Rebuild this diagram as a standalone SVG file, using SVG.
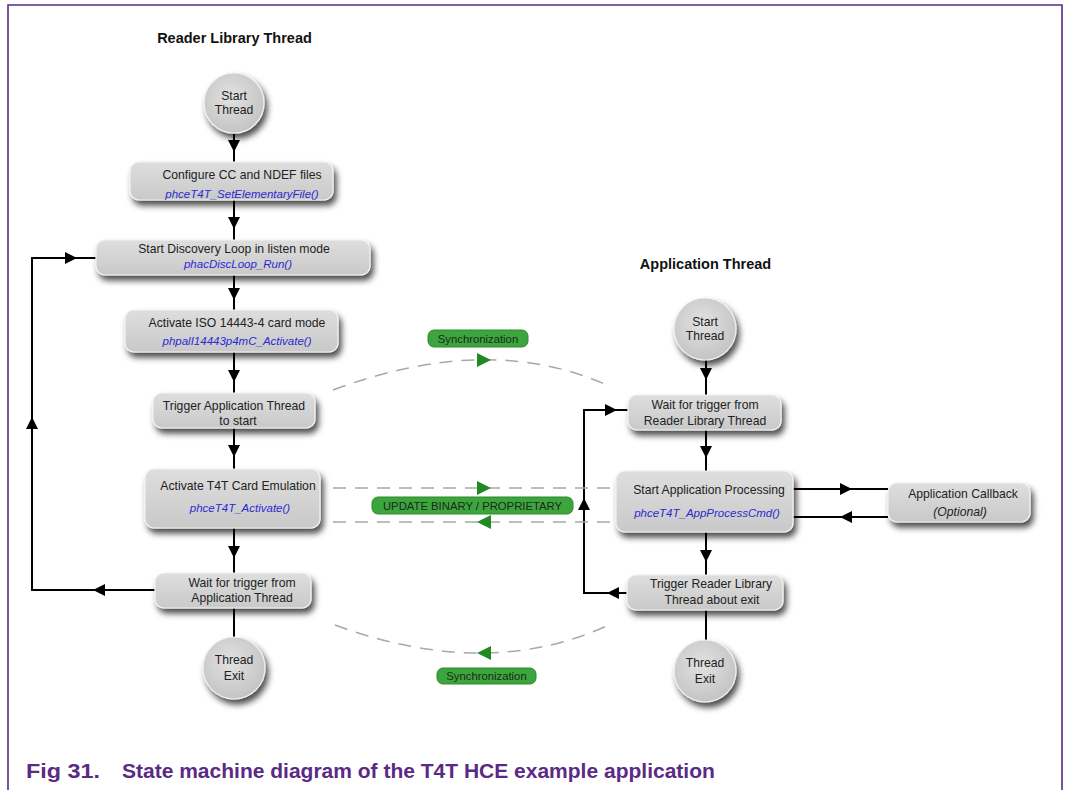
<svg xmlns="http://www.w3.org/2000/svg" width="1066" height="790" viewBox="0 0 1066 790">
<style>
.hdr{font-family:"Liberation Sans",Arial,sans-serif;font-weight:bold;font-size:14.5px;fill:#111;text-anchor:middle}
.t{font-family:"Liberation Sans",Arial,sans-serif;font-size:12.2px;fill:#222;text-anchor:middle}
.f{font-family:"Liberation Sans",Arial,sans-serif;font-size:11.5px;font-style:italic;fill:#2a2ad0;text-anchor:middle}
.box{fill:url(#gb);stroke:#f2f2f2;stroke-width:1.2;filter:url(#sh)}
.circ{fill:url(#gc);stroke:#f0f0f0;stroke-width:1.2;filter:url(#sh)}
.ln{fill:none;stroke:#000;stroke-width:2}
.dash{fill:none;stroke:#a8a8a8;stroke-width:1.5;stroke-dasharray:13 9}
.garr{fill:#1f8a1f}
.pill{fill:#3da53d;stroke:#2d8a2d;stroke-width:1}
.pt{font-family:"Liberation Sans",Arial,sans-serif;font-size:11.3px;fill:#1c2a1c;text-anchor:middle}
.cap{font-family:"Liberation Sans",Arial,sans-serif;font-weight:bold;font-size:21px;fill:#5a2a84}
</style>
<defs>
<linearGradient id="gb" x1="0" y1="0" x2="0" y2="1">
<stop offset="0" stop-color="#dedede"/>
<stop offset="1" stop-color="#c9c9c9"/>
</linearGradient>
<radialGradient id="gc" cx="0.45" cy="0.4" r="0.6">
<stop offset="0" stop-color="#e2e2e2"/>
<stop offset="1" stop-color="#c4c4c4"/>
</radialGradient>
<filter id="sh" x="-20%" y="-20%" width="150%" height="160%">
<feDropShadow dx="3" dy="5" stdDeviation="3" flood-color="#000" flood-opacity="0.7"/>
</filter>
<marker id="ar" viewBox="0 0 12 12" refX="12" refY="6" markerWidth="12" markerHeight="12" markerUnits="userSpaceOnUse" orient="auto">
<path d="M0,0 L12,6 L0,12 z" fill="#000"/>
</marker>
</defs>
<rect x="0" y="0" width="1066" height="790" fill="#fff"/>
<path d="M8,790 L8,5 L1062,5 L1062,790" fill="none" stroke="#5a2a84" stroke-width="1.6"/>

<text class="hdr" x="234.5" y="43">Reader Library Thread</text>
<text class="hdr" x="705.5" y="269">Application Thread</text>

<g id="connectors">
<path class="ln" d="M234,134 L234,152" marker-end="url(#ar)"/><path class="ln" d="M234,152 L234,162"/>
<path class="ln" d="M234,200 L234,229" marker-end="url(#ar)"/><path class="ln" d="M234,229 L234,240"/>
<path class="ln" d="M234,275 L234,300" marker-end="url(#ar)"/><path class="ln" d="M234,300 L234,310"/>
<path class="ln" d="M234,352 L234,382" marker-end="url(#ar)"/><path class="ln" d="M234,382 L234,393"/>
<path class="ln" d="M234,428 L234,457" marker-end="url(#ar)"/><path class="ln" d="M234,457 L234,469"/>
<path class="ln" d="M234,528 L234,558" marker-end="url(#ar)"/><path class="ln" d="M234,558 L234,573"/>
<path class="ln" d="M234,608 L234,638"/>
<path class="ln" d="M155,590 L93,590" marker-end="url(#ar)"/>
<path class="ln" d="M93,590 L32,590 L32,417" marker-end="url(#ar)"/>
<path class="ln" d="M32,417 L32,258 L77,258" marker-end="url(#ar)"/>
<path class="ln" d="M77,258 L96,258"/>
<path class="ln" d="M706,360 L706,380" marker-end="url(#ar)"/><path class="ln" d="M706,380 L706,395"/>
<path class="ln" d="M706,430 L706,458" marker-end="url(#ar)"/><path class="ln" d="M706,458 L706,471"/>
<path class="ln" d="M706,532 L706,562" marker-end="url(#ar)"/><path class="ln" d="M706,562 L706,575"/>
<path class="ln" d="M706,610 L706,640"/>
<path class="ln" d="M627,593 L607,593" marker-end="url(#ar)"/>
<path class="ln" d="M607,593 L584,593 L584,498" marker-end="url(#ar)"/>
<path class="ln" d="M584,498 L584,410 L617,410" marker-end="url(#ar)"/>
<path class="ln" d="M617,410 L628,410"/>
<path class="ln" d="M793,489 L852,489" marker-end="url(#ar)"/><path class="ln" d="M852,489 L888,489"/>
<path class="ln" d="M888,517 L840,517" marker-end="url(#ar)"/><path class="ln" d="M840,517 L793,517"/>
<path class="dash" d="M333,390 Q492,331 611,387"/>
<path class="garr" d="M477,353 L491,360 L477,367 z"/>
<path class="dash" d="M333,488 L614,488"/>
<path class="garr" d="M477,481 L491,488 L477,495 z"/>
<path class="dash" d="M333,522 L614,522"/>
<path class="garr" d="M491,515 L477,522 L491,529 z"/>
<path class="dash" d="M335,625 Q490,682 613,623"/>
<path class="garr" d="M491,646 L477,653 L491,660 z"/>
</g>

<g id="sync-top">
<rect class="pill" x="428" y="330" width="100" height="17" rx="6"/>
<text class="pt" x="478" y="342.5">Synchronization</text>
</g>
<g id="update-binary">
<rect class="pill" x="372" y="497" width="201" height="17" rx="6"/>
<text class="pt" x="472.5" y="509.5">UPDATE BINARY / PROPRIETARY</text>
</g>
<g id="sync-bottom">
<rect class="pill" x="437" y="668" width="99" height="16" rx="6"/>
<text class="pt" x="486.5" y="680">Synchronization</text>
</g>

<g id="rl-start">
<circle class="circ" cx="234" cy="103" r="30"/>
<text class="t" x="234" y="100">Start</text>
<text class="t" x="234" y="114">Thread</text>
</g>
<g id="rl-configure">
<rect class="box" x="130" y="162" width="203" height="38" rx="9"/>
<text class="t" x="242" y="179">Configure CC and NDEF files</text>
<text class="f" x="242" y="198">phceT4T_SetElementaryFile()</text>
</g>
<g id="rl-discovery">
<rect class="box" x="96" y="240" width="274" height="35" rx="9"/>
<text class="t" x="234" y="253">Start Discovery Loop in listen mode</text>
<text class="f" x="238" y="268">phacDiscLoop_Run()</text>
</g>
<g id="rl-iso">
<rect class="box" x="125" y="310" width="213" height="42" rx="9"/>
<text class="t" x="237" y="327">Activate ISO 14443-4 card mode</text>
<text class="f" x="237" y="345">phpalI14443p4mC_Activate()</text>
</g>
<g id="rl-trigger">
<rect class="box" x="153" y="393" width="162" height="35" rx="9"/>
<text class="t" x="234" y="410">Trigger Application Thread</text>
<text class="t" x="238" y="425">to start</text>
</g>
<g id="rl-activate">
<rect class="box" x="145" y="469" width="175" height="59" rx="9"/>
<text class="t" x="238" y="490">Activate T4T Card Emulation</text>
<text class="f" x="240" y="512">phceT4T_Activate()</text>
</g>
<g id="rl-wait">
<rect class="box" x="155" y="573" width="156" height="35" rx="9"/>
<text class="t" x="242" y="587">Wait for trigger from</text>
<text class="t" x="242" y="602">Application Thread</text>
</g>
<g id="rl-exit">
<circle class="circ" cx="234" cy="668" r="31"/>
<text class="t" x="234" y="664">Thread</text>
<text class="t" x="234" y="680">Exit</text>
</g>

<g id="app-start">
<circle class="circ" cx="705" cy="329" r="31"/>
<text class="t" x="705" y="326">Start</text>
<text class="t" x="705" y="340">Thread</text>
</g>
<g id="app-wait">
<rect class="box" x="628" y="395" width="153" height="35" rx="9"/>
<text class="t" x="705" y="409">Wait for trigger from</text>
<text class="t" x="705" y="425">Reader Library Thread</text>
</g>
<g id="app-processing">
<rect class="box" x="616" y="471" width="177" height="61" rx="9"/>
<text class="t" x="709" y="494">Start Application Processing</text>
<text class="f" x="707" y="517">phceT4T_AppProcessCmd()</text>
</g>
<g id="app-callback">
<rect class="box" x="888" y="483" width="142" height="39" rx="9"/>
<text class="t" x="963" y="498">Application Callback</text>
<text class="t" x="960" y="516" font-style="italic">(Optional)</text>
</g>
<g id="app-trigger">
<rect class="box" x="627" y="575" width="156" height="35" rx="9"/>
<text class="t" x="711" y="588">Trigger Reader Library</text>
<text class="t" x="712" y="604">Thread about exit</text>
</g>
<g id="app-exit">
<circle class="circ" cx="705" cy="671" r="31"/>
<text class="t" x="705" y="667">Thread</text>
<text class="t" x="705" y="683">Exit</text>
</g>

<text class="cap" x="26" y="778" textLength="74" lengthAdjust="spacingAndGlyphs">Fig 31.</text>
<text class="cap" x="122" y="778">State machine diagram of the T4T HCE example application</text>
</svg>
